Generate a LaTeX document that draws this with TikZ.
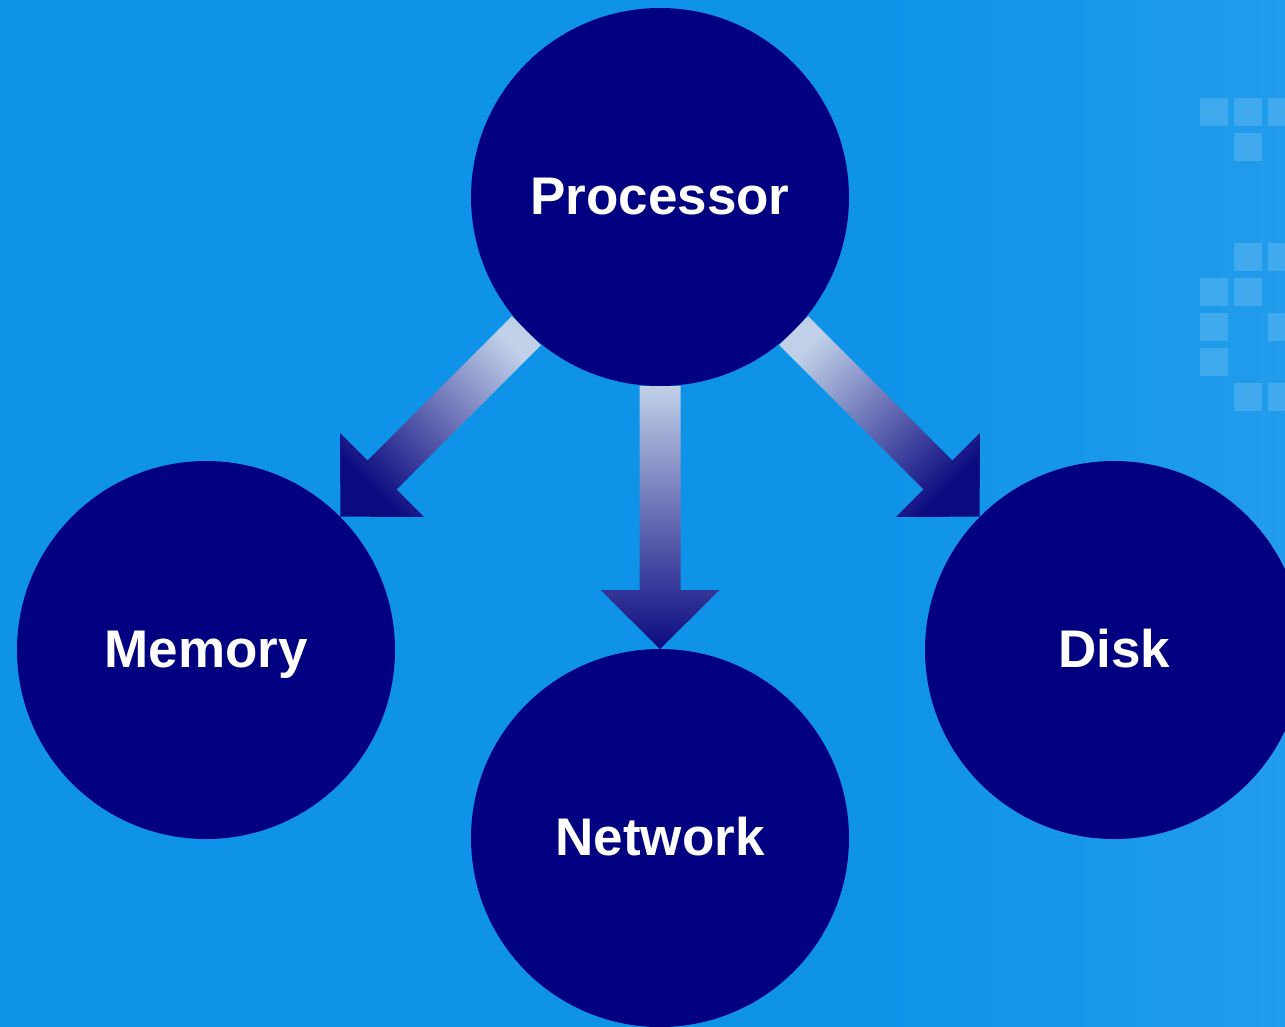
\documentclass[tikz,border=0pt]{standalone}
\usepackage{fontspec}
\setmainfont{Liberation Sans}
\definecolor{bgblue}{HTML}{0E93E8}
\definecolor{bglight}{HTML}{229CEC}
\definecolor{unitnavy}{HTML}{000080}
\definecolor{flowlight}{HTML}{C0D0E8}
\definecolor{flowdark}{HTML}{0C0A80}
\tikzset{
  unit/.style={circle, fill=unitnavy, minimum size=378pt, inner sep=0pt,
    text height=35pt, text depth=0pt,
    text=white, font=\fontsize{53}{60}\selectfont\bfseries},
  tile/.style={fill=white, fill opacity=0.15},
  flow/.style={top color=flowlight, bottom color=flowdark}
}
\begin{document}
\begin{tikzpicture}[x=1pt,y=1pt]
  \useasboundingbox (0,0) rectangle (1285,-1026);
  \clip (-3,3) rectangle (1288,-1029);

  % backdrop
  \fill[bgblue] (-3,3) rectangle (1288,-1029);
  \shade[left color=bgblue, right color=bglight] (880,3) rectangle (1288,-1029);

  % decorative tiles on the right edge
  \foreach \tx/\ty in {1200/98, 1234/98, 1268/98, 1234/133,
                       1234/243, 1268/243, 1200/278, 1234/278,
                       1200/313, 1268/313, 1200/348, 1234/383, 1268/383}
    \fill[tile] (\tx,-\ty) rectangle ++(28,-28);

  % units
  \node[unit] (P) at (660,-197) {Processor};
  \node[unit] (M) at (206,-650) {Memory};
  \node[unit] (N) at (660,-838) {Network};
  \node[unit] (D) at (1114,-650) {Disk};

  % block arrows leaving the processor
  \foreach \ang/\sh in {-90/0, -135/-45, -45/45}{
    \begin{scope}[shift={(P.center)}, rotate=\ang]
      \shade[flow, shading angle=\sh]
        (189,20.5) -- (393,20.5) -- (393,59.5) -- (452,0)
        -- (393,-59.5) -- (393,-20.5) -- (189,-20.5) -- cycle;
    \end{scope}
  }
\end{tikzpicture}
\end{document}
